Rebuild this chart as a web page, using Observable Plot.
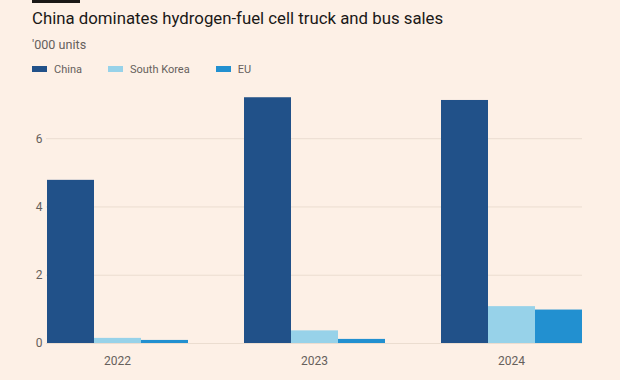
<!DOCTYPE html>
<html>
<head>
<meta charset="utf-8">
<script src="https://cdn.jsdelivr.net/npm/d3@7"></script>
<script src="https://cdn.jsdelivr.net/npm/@observablehq/plot@0.6"></script>
<style>
  html, body { margin: 0; padding: 0; background: #fdf0e6; }
  body { width: 620px; height: 380px; position: relative; overflow: hidden; font-family: Roboto, "Noto Sans", sans-serif; }
  #bar { position: absolute; left: 32px; top: 0; width: 48px; height: 2.5px; background: #1a1817; }
  #title { position: absolute; left: 32px; top: 8px; font-size: 16.8px; line-height: normal; color: #1a1817; white-space: nowrap; }
  #sub { position: absolute; left: 32px; top: 36.5px; font-size: 12.6px; color: #66605c; white-space: nowrap; }
  #legend { position: absolute; left: 32px; top: 62.5px; font-size: 11px; color: #66605c; display: flex; white-space: nowrap; }
  .item { display: flex; align-items: center; margin-right: 26px; }
  .sw { width: 15px; height: 6px; margin-right: 7px; }
  #chart { position: absolute; left: 0; top: 80px; }
</style>
</head>
<body>
<div id="bar"></div>
<div id="title">China dominates hydrogen-fuel cell truck and bus sales</div>
<div id="sub">'000 units</div>
<div id="legend"></div>
<div id="chart"></div>
<script>
const years = ["2022", "2023", "2024"];
const series = ["China", "South Korea", "EU"];
const colors = ["#215189", "#97d2e9", "#2290d0"];
const china = [4.78, 7.2, 7.12];
const southKorea = [0.15, 0.37, 1.08];
const eu = [0.09, 0.12, 0.98];
const yTicks = [0, 2, 4, 6];

const values = [china, southKorea, eu];
const data = [];
years.forEach((y, i) => series.forEach((s, j) => data.push({year: y, country: s, value: values[j][i]})));

// gridlines per facet; all but the last bridge the gap to the next facet
const gridBridge = [];
const gridLast = [];
years.forEach((y, i) => yTicks.forEach(t => (i < years.length - 1 ? gridBridge : gridLast).push({year: y, tick: t})));

const legend = document.getElementById("legend");
series.forEach((s, j) => {
  const it = document.createElement("div");
  it.className = "item";
  it.innerHTML = `<span class="sw" style="background:${colors[j]}"></span><span class="lab">${s}</span>`;
  legend.appendChild(it);
});

const plot = Plot.plot({
  width: 620,
  height: 300,
  marginLeft: 46,
  marginRight: 38,
  marginTop: 7,
  marginBottom: 37,
  style: {background: "transparent", fontFamily: "Roboto, Noto Sans, sans-serif", fontSize: "12px", color: "#66605c"},
  fx: {domain: years, paddingInner: 0.28, paddingOuter: 0, label: null, axis: null},
  x: {domain: series, padding: 0, axis: null},
  y: {domain: [0, 7.5], ticks: yTicks, label: null, axis: null},
  color: {domain: series, range: colors},
  marks: [
    Plot.ruleY(gridBridge, {fx: "year", y: "tick", stroke: "#ebddd0", strokeWidth: 1, insetRight: -55.5}),
    Plot.ruleY(gridLast, {fx: "year", y: "tick", stroke: "#ebddd0", strokeWidth: 1}),
    Plot.barY(data, {fx: "year", x: "country", y: "value", fill: "country"}),
    Plot.axisY(yTicks, {tickSize: 0, tickPadding: 4, label: null, fill: "#66605c", fontSize: 12}),
    Plot.axisFx({anchor: "bottom", tickSize: 0, tickPadding: 13, label: null, fill: "#66605c", fontSize: 12})
  ]
});
document.getElementById("chart").appendChild(plot);
</script>
</body>
</html>
